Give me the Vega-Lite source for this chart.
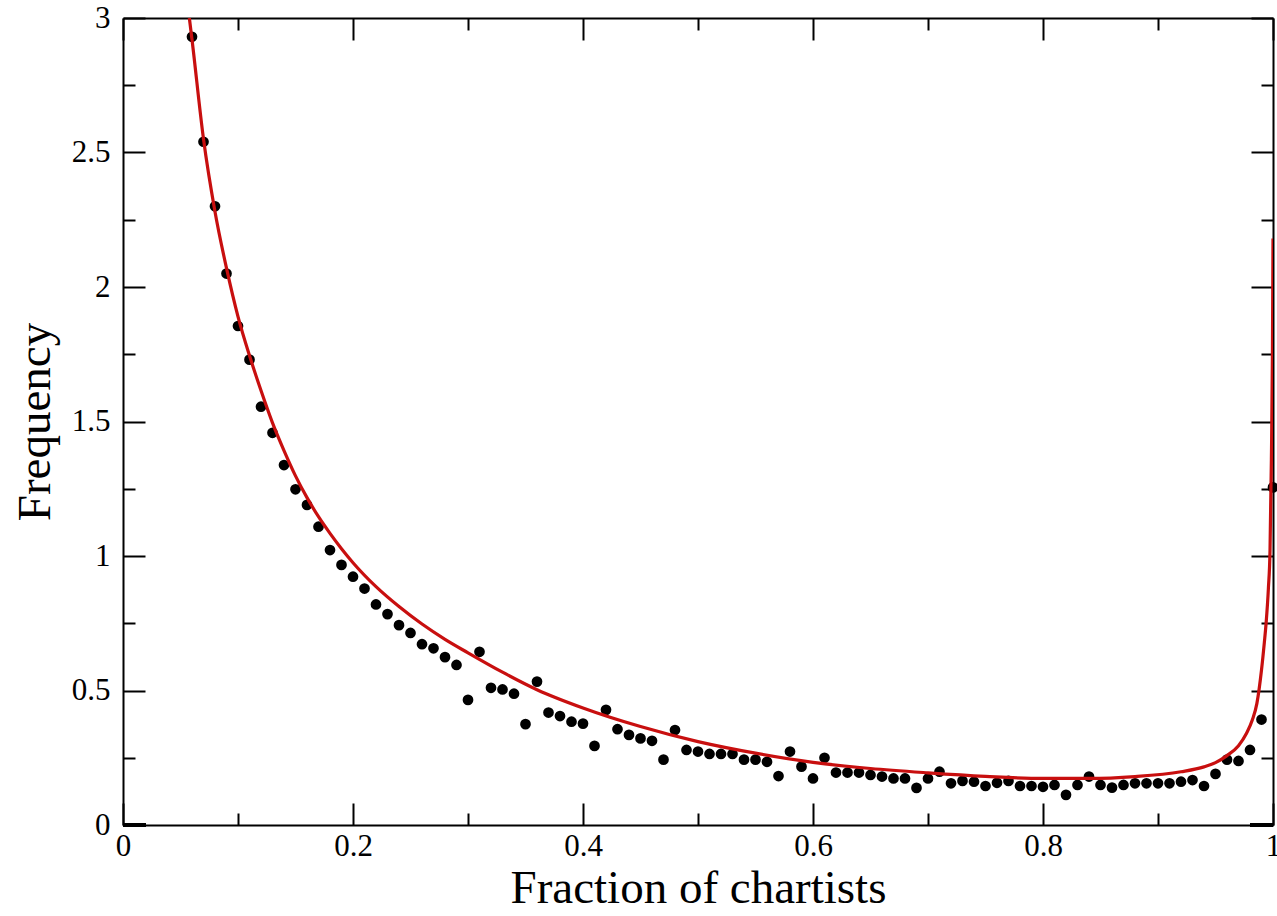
{
  "$schema": "https://vega.github.io/schema/vega-lite/v6.json",
  "width": 1150,
  "height": 807,
  "autosize": {"type": "none"},
  "padding": {"left": 123, "top": 18, "right": 4, "bottom": 91},
  "background": "white",
  "config": {
    "view": {"stroke": null},
    "axis": {
      "grid": false,
      "labelFont": "Liberation Serif",
      "labelFontSize": 31,
      "labelColor": "black",
      "titleFont": "Liberation Serif",
      "titleFontSize": 47,
      "titleFontWeight": "normal",
      "titleColor": "black",
      "tickColor": "black",
      "tickWidth": 2,
      "domainColor": "black",
      "domainWidth": 2,
      "labelOverlap": false,
      "labelFlush": false,
      "format": "~g"
    }
  },
  "datasets": {
    "points": [
      {"f": 0.06, "v": 2.93}, {"f": 0.07, "v": 2.54}, {"f": 0.08, "v": 2.30}, {"f": 0.09, "v": 2.05},
      {"f": 0.10, "v": 1.855}, {"f": 0.11, "v": 1.73}, {"f": 0.12, "v": 1.555}, {"f": 0.13, "v": 1.458},
      {"f": 0.14, "v": 1.338}, {"f": 0.15, "v": 1.248}, {"f": 0.16, "v": 1.19}, {"f": 0.17, "v": 1.109},
      {"f": 0.18, "v": 1.022}, {"f": 0.19, "v": 0.967}, {"f": 0.20, "v": 0.923}, {"f": 0.21, "v": 0.879},
      {"f": 0.22, "v": 0.82}, {"f": 0.23, "v": 0.784}, {"f": 0.24, "v": 0.743}, {"f": 0.25, "v": 0.714},
      {"f": 0.26, "v": 0.672}, {"f": 0.27, "v": 0.657}, {"f": 0.28, "v": 0.624}, {"f": 0.29, "v": 0.595},
      {"f": 0.30, "v": 0.465}, {"f": 0.31, "v": 0.644}, {"f": 0.32, "v": 0.51}, {"f": 0.33, "v": 0.504},
      {"f": 0.34, "v": 0.488}, {"f": 0.35, "v": 0.375}, {"f": 0.36, "v": 0.533}, {"f": 0.37, "v": 0.418},
      {"f": 0.38, "v": 0.405}, {"f": 0.39, "v": 0.384}, {"f": 0.40, "v": 0.377}, {"f": 0.41, "v": 0.294},
      {"f": 0.42, "v": 0.428}, {"f": 0.43, "v": 0.356}, {"f": 0.44, "v": 0.335}, {"f": 0.45, "v": 0.322},
      {"f": 0.46, "v": 0.313}, {"f": 0.47, "v": 0.243}, {"f": 0.48, "v": 0.353}, {"f": 0.49, "v": 0.279},
      {"f": 0.50, "v": 0.273}, {"f": 0.51, "v": 0.264}, {"f": 0.52, "v": 0.264}, {"f": 0.53, "v": 0.264},
      {"f": 0.54, "v": 0.243}, {"f": 0.55, "v": 0.243}, {"f": 0.56, "v": 0.235}, {"f": 0.57, "v": 0.182},
      {"f": 0.58, "v": 0.273}, {"f": 0.59, "v": 0.217}, {"f": 0.60, "v": 0.173}, {"f": 0.61, "v": 0.25},
      {"f": 0.62, "v": 0.195}, {"f": 0.63, "v": 0.195}, {"f": 0.64, "v": 0.195}, {"f": 0.65, "v": 0.186},
      {"f": 0.66, "v": 0.18}, {"f": 0.67, "v": 0.173}, {"f": 0.68, "v": 0.173}, {"f": 0.69, "v": 0.138},
      {"f": 0.70, "v": 0.173}, {"f": 0.71, "v": 0.198}, {"f": 0.72, "v": 0.155}, {"f": 0.73, "v": 0.164},
      {"f": 0.74, "v": 0.161}, {"f": 0.75, "v": 0.145}, {"f": 0.76, "v": 0.157}, {"f": 0.77, "v": 0.164},
      {"f": 0.78, "v": 0.145}, {"f": 0.79, "v": 0.145}, {"f": 0.80, "v": 0.142}, {"f": 0.81, "v": 0.149},
      {"f": 0.82, "v": 0.112}, {"f": 0.83, "v": 0.149}, {"f": 0.84, "v": 0.18}, {"f": 0.85, "v": 0.149},
      {"f": 0.86, "v": 0.139}, {"f": 0.87, "v": 0.149}, {"f": 0.88, "v": 0.155}, {"f": 0.89, "v": 0.155},
      {"f": 0.90, "v": 0.155}, {"f": 0.91, "v": 0.155}, {"f": 0.92, "v": 0.161}, {"f": 0.93, "v": 0.167},
      {"f": 0.94, "v": 0.145}, {"f": 0.95, "v": 0.19}, {"f": 0.96, "v": 0.243}, {"f": 0.97, "v": 0.238},
      {"f": 0.98, "v": 0.279}, {"f": 0.99, "v": 0.392}, {"f": 1.00, "v": 1.255}
    ],
    "curve": [
      {"f": 0.0577, "v": 3.0}, {"f": 0.06, "v": 2.92}, {"f": 0.07, "v": 2.55}, {"f": 0.08, "v": 2.28},
      {"f": 0.09, "v": 2.07}, {"f": 0.10, "v": 1.89}, {"f": 0.11, "v": 1.745}, {"f": 0.12, "v": 1.615},
      {"f": 0.13, "v": 1.495}, {"f": 0.14, "v": 1.392}, {"f": 0.15, "v": 1.298}, {"f": 0.16, "v": 1.217},
      {"f": 0.17, "v": 1.146}, {"f": 0.18, "v": 1.084}, {"f": 0.19, "v": 1.027}, {"f": 0.20, "v": 0.975},
      {"f": 0.22, "v": 0.886}, {"f": 0.24, "v": 0.812}, {"f": 0.26, "v": 0.747}, {"f": 0.28, "v": 0.69},
      {"f": 0.30, "v": 0.64}, {"f": 0.33, "v": 0.568}, {"f": 0.36, "v": 0.503}, {"f": 0.40, "v": 0.435},
      {"f": 0.45, "v": 0.366}, {"f": 0.50, "v": 0.31}, {"f": 0.55, "v": 0.267}, {"f": 0.60, "v": 0.233},
      {"f": 0.65, "v": 0.21}, {"f": 0.70, "v": 0.194}, {"f": 0.75, "v": 0.181}, {"f": 0.80, "v": 0.173},
      {"f": 0.84, "v": 0.173}, {"f": 0.88, "v": 0.18}, {"f": 0.92, "v": 0.198}, {"f": 0.94, "v": 0.216},
      {"f": 0.95, "v": 0.232}, {"f": 0.96, "v": 0.258}, {"f": 0.97, "v": 0.295}, {"f": 0.977, "v": 0.341},
      {"f": 0.982, "v": 0.39}, {"f": 0.986, "v": 0.452}, {"f": 0.99, "v": 0.576}, {"f": 0.9925, "v": 0.68},
      {"f": 0.994, "v": 0.75}, {"f": 0.996, "v": 0.88}, {"f": 0.9974, "v": 1.02}, {"f": 0.9986, "v": 1.36},
      {"f": 0.9995, "v": 1.75}, {"f": 1.0, "v": 2.18}
    ],
    "segLeft": [{"f": 0.0, "f2": 0.02, "v": 0}],
    "segRight": [{"f": 0.98, "f2": 1.0, "v": 0}]
  },
  "layer": [
    {
      "data": {"name": "points"},
      "mark": {"type": "point", "shape": "circle", "filled": true, "color": "black", "size": 115, "opacity": 1},
      "encoding": {
        "x": {"field": "f", "type": "quantitative", "scale": {"domain": [0, 1], "nice": false},
          "axis": {"orient": "bottom", "title": "Fraction of chartists", "values": [0, 0.2, 0.4, 0.6, 0.8, 1], "tickSize": -22, "labelPadding": 28, "titlePadding": 4, "domain": true}},
        "y": {"field": "v", "type": "quantitative", "scale": {"domain": [0, 3], "nice": false},
          "axis": {"orient": "left", "title": "Frequency", "values": [0, 0.5, 1, 1.5, 2, 2.5, 3], "tickSize": -22, "labelPadding": 35, "titlePadding": 12, "domain": true}}
      }
    },
    {
      "data": {"name": "curve"},
      "mark": {"type": "line", "color": "#c80f0f", "strokeWidth": 3.2, "interpolate": "monotone", "clip": true},
      "encoding": {
        "x": {"field": "f", "type": "quantitative", "scale": {"domain": [0, 1], "nice": false},
          "axis": {"orient": "bottom", "title": null, "values": [0.1, 0.3, 0.5, 0.7, 0.9], "tickSize": -12, "labels": false, "domain": false}},
        "y": {"field": "v", "type": "quantitative", "scale": {"domain": [0, 3], "nice": false},
          "axis": {"orient": "left", "title": null, "values": [0.25, 0.75, 1.25, 1.75, 2.25, 2.75], "tickSize": -12, "labels": false, "domain": false}}
      }
    },
    {
      "data": {"name": "segLeft"},
      "mark": {"type": "rule", "color": "black", "strokeWidth": 4},
      "encoding": {
        "x": {"field": "f", "type": "quantitative", "scale": {"domain": [0, 1], "nice": false},
          "axis": {"orient": "top", "title": null, "values": [0, 0.2, 0.4, 0.6, 0.8, 1], "tickSize": -22, "labels": false, "domain": true}},
        "x2": {"field": "f2"},
        "y": {"field": "v", "type": "quantitative", "scale": {"domain": [0, 3], "nice": false},
          "axis": {"orient": "right", "title": null, "values": [0, 0.5, 1, 1.5, 2, 2.5, 3], "tickSize": -22, "labels": false, "domain": true}}
      }
    },
    {
      "data": {"name": "segRight"},
      "mark": {"type": "rule", "color": "black", "strokeWidth": 4},
      "encoding": {
        "x": {"field": "f", "type": "quantitative", "scale": {"domain": [0, 1], "nice": false},
          "axis": {"orient": "top", "title": null, "values": [0.1, 0.3, 0.5, 0.7, 0.9], "tickSize": -12, "labels": false, "domain": false}},
        "x2": {"field": "f2"},
        "y": {"field": "v", "type": "quantitative", "scale": {"domain": [0, 3], "nice": false},
          "axis": {"orient": "right", "title": null, "values": [0.25, 0.75, 1.25, 1.75, 2.25, 2.75], "tickSize": -12, "labels": false, "domain": false}}
      }
    }
  ],
  "resolve": {"axis": {"x": "independent", "y": "independent"}}
}
